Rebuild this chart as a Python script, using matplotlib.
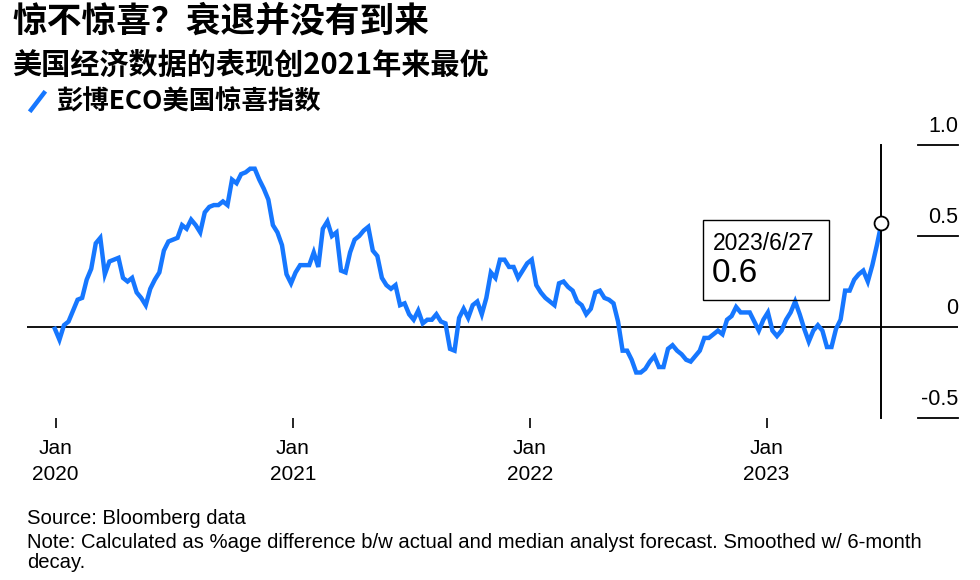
import numpy as np
import pandas as pd
import matplotlib
matplotlib.use("Agg")
import matplotlib.pyplot as plt
from matplotlib.lines import Line2D
from matplotlib.patches import Rectangle
import matplotlib.transforms as mtransforms

plt.rcParams['font.family'] = ['Liberation Sans', 'Noto Sans CJK SC', 'DejaVu Sans']

# data: weekly readings of the index, 2019-12-31 .. 2023-06-27
start_date = '2019-12-31'
end_date = '2023-06-27'
eco_values = [
    -0.01, -0.07, 0.01, 0.03, 0.09, 0.15, 0.16, 0.26, 0.32, 0.46,
    0.49, 0.29, 0.36, 0.37, 0.38, 0.27, 0.25, 0.27, 0.19, 0.16,
    0.12, 0.21, 0.26, 0.30, 0.42, 0.47, 0.48, 0.49, 0.56, 0.54,
    0.59, 0.56, 0.52, 0.63, 0.66, 0.67, 0.67, 0.69, 0.67, 0.81,
    0.79, 0.84, 0.85, 0.87, 0.87, 0.81, 0.76, 0.70, 0.56, 0.52,
    0.45, 0.29, 0.24, 0.30, 0.34, 0.34, 0.34, 0.41, 0.33, 0.54,
    0.58, 0.50, 0.52, 0.31, 0.30, 0.41, 0.48, 0.50, 0.53, 0.55,
    0.42, 0.39, 0.27, 0.23, 0.21, 0.23, 0.12, 0.13, 0.07, 0.04,
    0.09, 0.02, 0.04, 0.04, 0.07, 0.03, 0.02, -0.12, -0.13, 0.05,
    0.10, 0.05, 0.12, 0.14, 0.07, 0.16, 0.30, 0.27, 0.37, 0.37,
    0.33, 0.33, 0.27, 0.31, 0.35, 0.37, 0.23, 0.19, 0.16, 0.14,
    0.12, 0.24, 0.25, 0.22, 0.20, 0.14, 0.12, 0.07, 0.10, 0.19,
    0.20, 0.16, 0.15, 0.13, 0.03, -0.13, -0.13, -0.18, -0.25, -0.25,
    -0.23, -0.19, -0.16, -0.22, -0.22, -0.12, -0.10, -0.13, -0.15, -0.18,
    -0.19, -0.16, -0.13, -0.06, -0.06, -0.04, -0.02, -0.04, 0.04, 0.06,
    0.11, 0.08, 0.08, 0.08, 0.03, -0.02, 0.04, 0.08, -0.02, -0.05,
    -0.02, 0.04, 0.08, 0.14, 0.07, -0.01, -0.08, -0.02, 0.01, -0.02,
    -0.11, -0.11, -0.01, 0.04, 0.20, 0.20, 0.26, 0.29, 0.31, 0.25,
    0.34, 0.45, 0.57,
]
dates = pd.date_range(start_date, end_date, freq='7D')

xtick_dates = ['2020-01-01', '2021-01-01', '2022-01-01', '2023-01-01']
xtick_labels = ['Jan\n2020', 'Jan\n2021', 'Jan\n2022', 'Jan\n2023']
ytick_values = [1.0, 0.5, 0, -0.5]
ytick_labels = ['1.0', '0.5', '0', '-0.5']

title = '惊不惊喜？衰退并没有到来'
subtitle = '美国经济数据的表现创2021年来最优'
legend_label = '彭博ECO美国惊喜指数'
source = 'Source: Bloomberg data'
note = 'Note: Calculated as %age difference b/w actual and median analyst forecast. Smoothed w/ 6-month\ndecay.'

blue = '#1677ff'
cjk = ['Noto Sans CJK SC', 'DejaVu Sans']

W, H = 980, 580
fig = plt.figure(figsize=(9.8, 5.8), dpi=100)

# axes in pixel box: x 27..958, y 115..418
ax = fig.add_axes([27 / W, 1 - 418 / H, 931 / W, 303 / H])
ax.set_xlim(pd.Timestamp('2019-11-18'), pd.Timestamp('2023-10-23'))
ax.set_ylim(-0.5, 1.165)
for s in ax.spines.values():
    s.set_visible(False)

ax.plot(dates, eco_values, color=blue, lw=3.2, solid_joinstyle='miter', zorder=3)

# zero line across, short lines at other levels on the right
ax.axhline(0, color='black', lw=1.3, zorder=2)
trans = mtransforms.blended_transform_factory(ax.transAxes, ax.transData)
for v, lab in zip(ytick_values, ytick_labels):
    if v != 0:
        ax.axhline(v, xmin=0.957, xmax=1.0, color='black', lw=1.3, clip_on=False)
    ax.annotate(lab, xy=(1.0, v), xycoords=trans, xytext=(0, 6),
                textcoords='offset points', ha='right', va='bottom',
                fontsize=15.5)

ax.set_yticks([])
ax.set_xticks([pd.Timestamp(d) for d in xtick_dates])
ax.set_xticklabels(xtick_labels, fontsize=15, linespacing=1.45)
ax.tick_params(axis='x', length=7, width=1.2, color='black', pad=8)

# last point marker and vertical guide
last_date, last_val = dates[-1], eco_values[-1]
ax.plot([last_date, last_date], [-0.5, 1.0], color='black', lw=1.4, zorder=4,
        clip_on=False)
ax.plot([last_date], [last_val], 'o', ms=10, mfc='white', mec='black', mew=1.3,
        zorder=5)

# tooltip box
fig.add_artist(Rectangle((703 / W, 1 - 300 / H), 126 / W, 80 / H,
                         transform=fig.transFigure, fill=False, ec='black', lw=1))
fig.text(713 / W, 1 - 243 / H, f'{last_date.year}/{last_date.month}/{last_date.day}',
         fontsize=16.5, va='center', ha='left')
fig.text(712 / W, 1 - 273 / H, f'{last_val:.1f}', fontsize=24, va='center', ha='left')

# titles and legend
fig.text(12 / W, 1 - 21 / H, title, fontsize=25, fontweight='bold', family=cjk,
         va='center', ha='left')
fig.text(12 / W, 1 - 65 / H, subtitle, fontsize=21, fontweight='bold', family=cjk,
         va='center', ha='left')
fig.add_artist(Line2D([31 / W, 44 / W], [1 - 110 / H, 1 - 93 / H], color=blue, lw=3.2,
                      transform=fig.transFigure))
fig.text(57 / W, 1 - 102 / H, legend_label, fontsize=19, fontweight='bold', family=cjk,
         va='center', ha='left')

fig.text(27 / W, 1 - 519 / H, source, fontsize=14.6, va='center', ha='left')
fig.text(27 / W, 1 - 552.5 / H, note, fontsize=14.6, va='center', ha='left',
         linespacing=1.05)

fig.savefig('out.png', dpi=100)
